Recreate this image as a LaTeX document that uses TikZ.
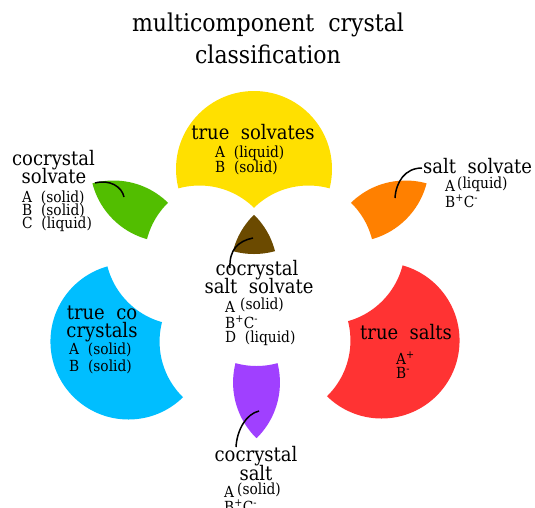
\documentclass[tikz,border=0pt]{standalone}
\usepackage{fontspec}
\setmainfont{DejaVu Serif Condensed}[WordSpace=2.0]
\definecolor{cyellow}{RGB}{255,224,0}
\definecolor{cgreen}{RGB}{82,190,0}
\definecolor{corange}{RGB}{255,128,0}
\definecolor{cbrown}{RGB}{107,74,0}
\definecolor{cblue}{RGB}{0,190,255}
\definecolor{cred}{RGB}{255,51,51}
\definecolor{cpurple}{RGB}{160,64,255}
\begin{document}
\begin{tikzpicture}[x=1pt,y=1pt,
  big/.style={inner sep=0pt,anchor=base,font=\fontsize{20}{22}\selectfont},
  small/.style={inner sep=0pt,anchor=base west,font=\fontsize{15.3}{17}\selectfont},
  ttl/.style={inner sep=0pt,anchor=base,font=\fontsize{24.5}{27}\selectfont},
  leader/.style={draw=black,line width=1.5pt}]
\useasboundingbox (0,0) rectangle (535,-507);
\clip (0,0) rectangle (535,-507);
\fill[white] (0,0) rectangle (535,-507);
\def\R{78pt}
\def\inA{\clip (254,-176) circle[radius=\R];}
\def\inB{\clip (199.44,-270.5) circle[radius=\R];}
\def\inC{\clip (308.56,-270.5) circle[radius=\R];}
\def\outA{\clip (254,-176) circle[radius=\R] (-600,-1200) -- (-600,600) -- (1200,600) -- (1200,-1200) -- cycle;}
\def\outB{\clip (199.44,-270.5) circle[radius=\R] (-600,-1200) -- (-600,600) -- (1200,600) -- (1200,-1200) -- cycle;}
\def\outC{\clip (308.56,-270.5) circle[radius=\R] (-600,-1200) -- (-600,600) -- (1200,600) -- (1200,-1200) -- cycle;}
% yellow: A only
\begin{scope}[shift={(0,7)}]\inA\outB\outC\fill[cyellow] (-600,-1200) rectangle (1200,600);\end{scope}
% green: A and B
\begin{scope}[shift={(-86,12)}]\inA\inB\outC\fill[cgreen] (-600,-1200) rectangle (1200,600);\end{scope}
% orange: A and C
\begin{scope}[shift={(97,12)}]\inA\inC\outB\fill[corange] (-600,-1200) rectangle (1200,600);\end{scope}
% blue: B only
\begin{scope}[shift={(-71,-71)}]\inB\outA\outC\fill[cblue] (-600,-1200) rectangle (1200,600);\end{scope}
% red: C only
\begin{scope}[shift={(73,-70)}]\inC\outA\outB\fill[cred] (-600,-1200) rectangle (1200,600);\end{scope}
% purple: B and C
\begin{scope}[shift={(2.5,-112)}]\inB\inC\outA\fill[cpurple] (-600,-1200) rectangle (1200,600);\end{scope}
% brown: all three
\begin{scope}\inA\inB\inC\fill[cbrown] (-600,-1200) rectangle (1200,600);\end{scope}

% title
\node[ttl] (title1) at (268,-31) {multicomponent crystal};
\node[ttl] (title2) at (268,-63) {classification};
% true solvates
\node[big] (ts) at (253,-139) {true solvates};
\node[small] (ts1) at (215,-157) {A (liquid)};
\node[small] (ts2) at (215,-172) {B (solid)};
% cocrystal solvate
\node[big] (cs1) at (53.5,-165) {cocrystal};
\node[big] (cs2) at (54,-183) {solvate};
\node[small] (cs3) at (22,-202) {A (solid)};
\node[small] (cs4) at (22,-215) {B (solid)};
\node[small] (cs5) at (22,-228) {C (liquid)};
% salt solvate
\node[big,anchor=base west] (ss) at (423,-173) {salt solvate};
\node[small] (ss1) at (445,-191) {A\hspace{2pt}\raisebox{3pt}{(liquid)}};
\node[small] (ss2) at (445,-207) {B\textsuperscript{+}C\textsuperscript{-}};
% cocrystal salt solvate
\node[big] (css1) at (257,-275) {cocrystal};
\node[big] (css2) at (259,-293) {salt solvate};
\node[small] (css3) at (225,-312) {A\hspace{5pt}\raisebox{3pt}{(solid)}};
\node[small] (css4) at (225,-328) {B\textsuperscript{+}C\textsuperscript{-}};
\node[small] (css5) at (225,-342) {D (liquid)};
% true co crystals
\node[big] (tc1) at (102,-319) {true co};
\node[big] (tc2) at (102,-337) {crystals};
\node[small] (tc3) at (69,-354) {A (solid)};
\node[small] (tc4) at (69,-371) {B (solid)};
% true salts
\node[big] (tsa) at (406,-339) {true salts};
\node[small] (tsa1) at (396,-364) {A\textsuperscript{+}};
\node[small] (tsa2) at (396,-378) {B\textsuperscript{-}};
% cocrystal salt
\node[big] (cst1) at (256,-461) {cocrystal};
\node[big] (cst2) at (256,-480) {salt};
\node[small] (cst3) at (224,-497) {A\hspace{3pt}\raisebox{3pt}{(solid)}};
\node[small] (cst4) at (224,-512) {B\textsuperscript{+}C\textsuperscript{-}};

% leaders
\coordinate (gA) at (95,-183);   \coordinate (gB) at (124,-197);
\coordinate (oA) at (422,-168);  \coordinate (oB) at (395,-198);
\coordinate (bA) at (253,-238);  \coordinate (bB) at (230,-268);
\coordinate (pA) at (259,-411);  \coordinate (pB) at (236,-447);
\draw[leader] (gA) .. controls (110,-179) and (122,-187) .. (gB);
\draw[leader] (oA) .. controls (405,-168) and (396,-182) .. (oB);
\draw[leader] (bA) .. controls (238,-241) and (229,-250) .. (bB);
\draw[leader] (pA) .. controls (246,-414) and (237,-430) .. (pB);
\end{tikzpicture}
\end{document}
